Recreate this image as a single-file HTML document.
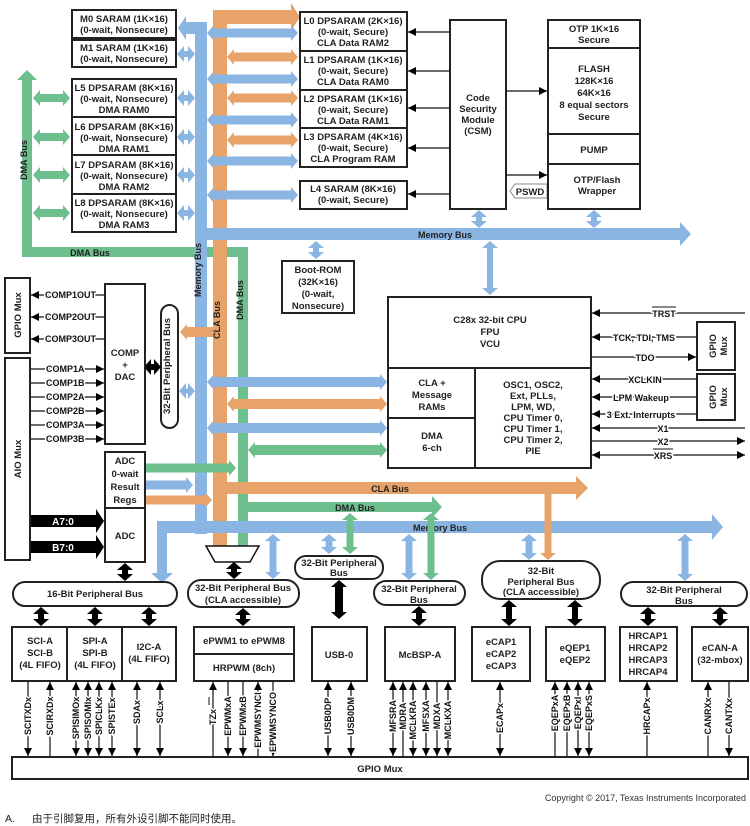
<!DOCTYPE html>
<html><head><meta charset="utf-8"><style>
body{margin:0;background:#fff;}
svg{display:block;font-family:"Liberation Sans",Arial,sans-serif;font-weight:bold;}
.t{font-size:9.5px;text-anchor:middle;fill:#222;}
.s{font-size:9px;fill:#222;}
.p{font-size:9px;text-anchor:middle;fill:#111;stroke:#fff;stroke-width:3px;paint-order:stroke;}
.bx{fill:#fff;stroke:#222;stroke-width:2;}
.ln{stroke:#111;stroke-width:1.2;fill:none;}
</style></head><body>
<svg width="750" height="826" viewBox="0 0 750 826">
<defs>
<marker id="mb" viewBox="0 0 7 16" refX="0" refY="8" markerWidth="7" markerHeight="16" markerUnits="userSpaceOnUse" orient="auto-start-reverse"><path d="M0,0L7,8L0,16z" fill="#8ab4e2"/></marker>
<marker id="mo" viewBox="0 0 7 16" refX="0" refY="8" markerWidth="7" markerHeight="16" markerUnits="userSpaceOnUse" orient="auto-start-reverse"><path d="M0,0L7,8L0,16z" fill="#e8a36a"/></marker>
<marker id="mg" viewBox="0 0 7 16" refX="0" refY="8" markerWidth="7" markerHeight="16" markerUnits="userSpaceOnUse" orient="auto-start-reverse"><path d="M0,0L7,8L0,16z" fill="#6dbf8e"/></marker>
<marker id="mk" viewBox="0 0 7 16" refX="0" refY="8" markerWidth="7" markerHeight="16" markerUnits="userSpaceOnUse" orient="auto-start-reverse"><path d="M0,0L7,8L0,16z" fill="#000"/></marker>
<marker id="a" viewBox="0 0 8 8" refX="8" refY="4" markerWidth="8" markerHeight="8" markerUnits="userSpaceOnUse" orient="auto-start-reverse"><path d="M0,0L8,4L0,8z" fill="#000"/></marker>
</defs>

<!-- ===== Main buses ===== -->
<!-- green left DMA -->
<rect x="22" y="80" width="10" height="173" fill="#6dbf8e"/>
<polygon points="17,80 27,70 37,80" fill="#6dbf8e"/>
<rect x="22" y="247" width="226" height="10" fill="#6dbf8e"/>
<rect x="238" y="247" width="10" height="300" fill="#6dbf8e"/>
<polygon points="232,547 243,558 254,547" fill="#6dbf8e"/>
<text x="27" y="160" class="s" transform="rotate(-90 27 160)" text-anchor="middle" font-size="10">DMA Bus</text>
<text x="90" y="256" class="s" text-anchor="middle" font-size="10">DMA Bus</text>
<text x="243" y="300" class="s" transform="rotate(-90 243 300)" text-anchor="middle" font-size="10">DMA Bus</text>

<!-- orange CLA vertical -->
<rect x="213" y="10" width="14" height="537" fill="#e8a36a"/>
<rect x="213" y="10" width="78" height="14" fill="#e8a36a"/>
<polygon points="291,3 300,17 291,31" fill="#e8a36a"/>
<polygon points="208,547 220,558 232,547" fill="#e8a36a"/>
<text x="220" y="320" class="s" transform="rotate(-90 220 320)" text-anchor="middle" font-size="10">CLA Bus</text>

<!-- blue memory vertical -->
<rect x="195" y="22" width="12" height="512" fill="#8ab4e2"/>
<rect x="186" y="22" width="10" height="12" fill="#8ab4e2"/>
<polygon points="186,16 178,28 186,40" fill="#8ab4e2"/>
<text x="201" y="270" class="s" transform="rotate(-90 201 270)" text-anchor="middle" font-size="10">Memory Bus</text>
<!-- top memory bus horizontal -->
<rect x="195" y="228" width="485" height="12" fill="#8ab4e2"/>
<polygon points="680,222 691,234 680,246" fill="#8ab4e2"/>
<text x="445" y="238" class="s" text-anchor="middle" font-size="10">Memory Bus</text>

<!-- bottom memory bus -->
<rect x="157" y="521" width="555" height="12" fill="#8ab4e2"/>
<polygon points="712,514 723,527 712,540" fill="#8ab4e2"/>
<rect x="157" y="521" width="10" height="52" fill="#8ab4e2"/>
<polygon points="151,573 162,583 173,573" fill="#8ab4e2"/>
<text x="440" y="531" class="s" text-anchor="middle" font-size="10">Memory Bus</text>
<!-- CLA bus horizontal -->
<rect x="220" y="482" width="356" height="12" fill="#e8a36a"/>
<polygon points="576,476 588,488 576,500" fill="#e8a36a"/>
<text x="390" y="492" class="s" text-anchor="middle" font-size="10">CLA Bus</text>
<!-- DMA bus horizontal -->
<rect x="242" y="502" width="190" height="10" fill="#6dbf8e"/>
<polygon points="432,496 442,507 432,518" fill="#6dbf8e"/>
<text x="355" y="511" class="s" text-anchor="middle" font-size="10">DMA Bus</text>

<!-- ===== Left memory blocks ===== -->
<rect x="72" y="10" width="104" height="28" class="bx"/>
<text x="124" y="22" class="t">M0 SARAM (1K×16)</text><text x="124" y="33" class="t">(0-wait, Nonsecure)</text>
<rect x="72" y="40" width="104" height="27" class="bx"/>
<text x="124" y="51" class="t">M1 SARAM (1K×16)</text><text x="124" y="62" class="t">(0-wait, Nonsecure)</text>
<rect x="72" y="79" width="104" height="38" class="bx"/>
<text x="124" y="91" class="t">L5 DPSARAM (8K×16)</text><text x="124" y="102" class="t">(0-wait, Nonsecure)</text><text x="124" y="113" class="t">DMA RAM0</text>
<rect x="72" y="117" width="104" height="38" class="bx"/>
<text x="124" y="130" class="t">L6 DPSARAM (8K×16)</text><text x="124" y="141" class="t">(0-wait, Nonsecure)</text><text x="124" y="152" class="t">DMA RAM1</text>
<rect x="72" y="155" width="104" height="39" class="bx"/>
<text x="124" y="168" class="t">L7 DPSARAM (8K×16)</text><text x="124" y="179" class="t">(0-wait, Nonsecure)</text><text x="124" y="190" class="t">DMA RAM2</text>
<rect x="72" y="194" width="104" height="38" class="bx"/>
<text x="124" y="206" class="t">L8 DPSARAM (8K×16)</text><text x="124" y="217" class="t">(0-wait, Nonsecure)</text><text x="124" y="228" class="t">DMA RAM3</text>

<g stroke="#8ab4e2" stroke-width="6" marker-start="url(#mb)" marker-end="url(#mb)">
<line x1="184" y1="54" x2="188" y2="54"/><line x1="184" y1="98" x2="188" y2="98"/><line x1="184" y1="137" x2="188" y2="137"/><line x1="184" y1="175" x2="188" y2="175"/><line x1="184" y1="213" x2="188" y2="213"/>
</g>
<g stroke="#6dbf8e" stroke-width="8" marker-start="url(#mg)" marker-end="url(#mg)">
<line x1="40" y1="98" x2="63" y2="98"/><line x1="40" y1="137" x2="63" y2="137"/><line x1="40" y1="175" x2="63" y2="175"/><line x1="40" y1="213" x2="63" y2="213"/>
</g>

<!-- ===== Right L0-L4 ===== -->
<g stroke="#8ab4e2" stroke-width="9" marker-start="url(#mb)" marker-end="url(#mb)">
<line x1="214" y1="33" x2="291" y2="33"/><line x1="214" y1="79" x2="291" y2="79"/><line x1="214" y1="120" x2="291" y2="120"/><line x1="214" y1="161" x2="291" y2="161"/><line x1="214" y1="195" x2="291" y2="195"/>
</g>
<g stroke="#e8a36a" stroke-width="9" marker-start="url(#mo)" marker-end="url(#mo)">
<line x1="234" y1="57" x2="291" y2="57"/><line x1="234" y1="98" x2="291" y2="98"/><line x1="234" y1="140" x2="291" y2="140"/>
</g>
<rect x="300" y="12" width="107" height="39" class="bx"/>
<text x="353" y="24" class="t">L0 DPSARAM (2K×16)</text><text x="353" y="35" class="t">(0-wait, Secure)</text><text x="353" y="46" class="t">CLA Data RAM2</text>
<rect x="300" y="51" width="107" height="39" class="bx"/>
<text x="353" y="63" class="t">L1 DPSARAM (1K×16)</text><text x="353" y="74" class="t">(0-wait, Secure)</text><text x="353" y="85" class="t">CLA Data RAM0</text>
<rect x="300" y="90" width="107" height="38" class="bx"/>
<text x="353" y="102" class="t">L2 DPSARAM (1K×16)</text><text x="353" y="113" class="t">(0-wait, Secure)</text><text x="353" y="124" class="t">CLA Data RAM1</text>
<rect x="300" y="128" width="107" height="39" class="bx"/>
<text x="353" y="140" class="t">L3 DPSARAM (4K×16)</text><text x="353" y="151" class="t">(0-wait, Secure)</text><text x="353" y="162" class="t">CLA Program RAM</text>
<rect x="300" y="181" width="107" height="28" class="bx"/>
<text x="353" y="192" class="t">L4 SARAM (8K×16)</text><text x="353" y="203" class="t">(0-wait, Secure)</text>

<!-- CSM -->
<rect x="450" y="20" width="56" height="189" class="bx"/>
<text x="478" y="101" class="t">Code</text><text x="478" y="112" class="t">Security</text><text x="478" y="123" class="t">Module</text><text x="478" y="134" class="t">(CSM)</text>
<g class="ln" marker-end="url(#a)">
<line x1="450" y1="32" x2="408" y2="32"/><line x1="450" y1="71" x2="408" y2="71"/><line x1="450" y1="108" x2="408" y2="108"/><line x1="450" y1="148" x2="408" y2="148"/><line x1="450" y1="194" x2="408" y2="194"/>
<line x1="506" y1="91" x2="547" y2="91"/><line x1="506" y1="175" x2="547" y2="175"/>
</g>
<polygon points="547,184 515,184 510,191 515,198 547,198" fill="#fff" stroke="#888" stroke-width="1"/>
<text x="530" y="195" class="t" font-size="9">PSWD</text>
<!-- Flash -->
<rect x="548" y="20" width="92" height="28" class="bx"/>
<text x="594" y="32" class="t">OTP 1K×16</text><text x="594" y="43" class="t">Secure</text>
<rect x="548" y="48" width="92" height="86" class="bx"/>
<text x="594" y="72" class="t">FLASH</text><text x="594" y="84" class="t">128K×16</text><text x="594" y="96" class="t">64K×16</text><text x="594" y="108" class="t">8 equal sectors</text><text x="594" y="120" class="t">Secure</text>
<rect x="548" y="134" width="92" height="30" class="bx"/>
<text x="594" y="153" class="t">PUMP</text>
<rect x="548" y="164" width="92" height="45" class="bx"/>
<text x="597" y="183" class="t">OTP/Flash</text><text x="597" y="194" class="t">Wrapper</text>
<g stroke="#8ab4e2" stroke-width="6" marker-start="url(#mb)" marker-end="url(#mb)">
<line x1="479" y1="217" x2="479" y2="221"/><line x1="594" y1="217" x2="594" y2="221"/>
<line x1="316" y1="248" x2="316" y2="252"/>
<line x1="490" y1="248" x2="490" y2="288"/>
</g>
<!-- Boot ROM -->
<rect x="282" y="261" width="72" height="52" class="bx"/>
<text x="318" y="273" class="t">Boot-ROM</text><text x="318" y="285" class="t">(32K×16)</text><text x="318" y="297" class="t">(0-wait,</text><text x="318" y="309" class="t">Nonsecure)</text>

<!-- CPU -->
<rect x="388" y="297" width="203" height="71" class="bx"/>
<text x="490" y="323" class="t" font-size="10">C28x 32-bit CPU</text><text x="490" y="335" class="t" font-size="10">FPU</text><text x="490" y="347" class="t" font-size="10">VCU</text>
<rect x="388" y="368" width="87" height="50" class="bx"/>
<text x="432" y="386" class="t" font-size="10">CLA +</text><text x="432" y="398" class="t" font-size="10">Message</text><text x="432" y="410" class="t" font-size="10">RAMs</text>
<rect x="388" y="418" width="87" height="50" class="bx"/>
<text x="432" y="439" class="t" font-size="10">DMA</text><text x="432" y="451" class="t" font-size="10">6-ch</text>
<rect x="475" y="368" width="116" height="100" class="bx"/>
<g class="t" font-size="9"><text x="533" y="388">OSC1, OSC2,</text><text x="533" y="399">Ext, PLLs,</text><text x="533" y="410">LPM, WD,</text><text x="533" y="421">CPU Timer 0,</text><text x="533" y="432">CPU Timer 1,</text><text x="533" y="443">CPU Timer 2,</text><text x="533" y="454">PIE</text></g>
<!-- right GPIO mux -->
<rect x="697" y="322" width="38" height="48" class="bx"/>
<text x="716" y="346" class="t" transform="rotate(-90 716 346)" font-size="10">GPIO</text><text x="727" y="346" class="t" transform="rotate(-90 727 346)" font-size="10">Mux</text>
<rect x="697" y="374" width="38" height="46" class="bx"/>
<text x="716" y="397" class="t" transform="rotate(-90 716 397)" font-size="10">GPIO</text><text x="727" y="397" class="t" transform="rotate(-90 727 397)" font-size="10">Mux</text>
<g class="ln">
<line x1="745" y1="313" x2="592" y2="313" marker-end="url(#a)"/>
<line x1="697" y1="337" x2="592" y2="337" marker-end="url(#a)"/>
<line x1="591" y1="357" x2="696" y2="357" marker-end="url(#a)"/>
<line x1="697" y1="379" x2="592" y2="379" marker-end="url(#a)"/>
<line x1="697" y1="397" x2="592" y2="397" marker-end="url(#a)"/>
<line x1="697" y1="414" x2="592" y2="414" marker-end="url(#a)"/>
<line x1="745" y1="428" x2="592" y2="428" marker-end="url(#a)"/>
<line x1="591" y1="441" x2="745" y2="441" marker-end="url(#a)"/>
<line x1="592" y1="455" x2="745" y2="455" marker-end="url(#a)" marker-start="url(#a)"/>
</g>
<g class="p" font-size="9.5">
<text x="664" y="317">TRST</text><line x1="652" y1="307" x2="676" y2="307" stroke="#111" stroke-width="1"/>
<text x="644" y="341">TCK, TDI, TMS</text>
<text x="645" y="361">TDO</text>
<text x="645" y="383">XCLKIN</text>
<text x="641" y="401">LPM Wakeup</text>
<text x="641" y="418">3 Ext. Interrupts</text>
<text x="663" y="432">X1</text>
<text x="663" y="445">X2</text>
<text x="663" y="459">XRS</text><line x1="653" y1="449" x2="673" y2="449" stroke="#111" stroke-width="1"/>
</g>

<!-- arrows from buses to CLA/DMA -->
<g stroke="#8ab4e2" stroke-width="10" marker-start="url(#mb)" marker-end="url(#mb)">
<line x1="214" y1="382" x2="380" y2="382"/><line x1="214" y1="428" x2="380" y2="428"/>
</g>
<line x1="234" y1="404" x2="380" y2="404" stroke="#e8a36a" stroke-width="10" marker-start="url(#mo)" marker-end="url(#mo)"/>
<line x1="255" y1="450" x2="380" y2="450" stroke="#6dbf8e" stroke-width="10" marker-start="url(#mg)" marker-end="url(#mg)"/>
<!-- left peripheral bus pill -->
<line x1="213" y1="332" x2="187" y2="332" stroke="#e8a36a" stroke-width="10" marker-end="url(#mo)"/>
<line x1="186" y1="391" x2="188" y2="391" stroke="#8ab4e2" stroke-width="5" marker-start="url(#mb)" marker-end="url(#mb)"/>
<rect x="161" y="305" width="17" height="123" rx="8.5" class="bx" stroke-width="1.5"/>
<text x="170" y="366" class="t" transform="rotate(-90 170 366)" font-size="9.5">32-Bit Peripheral Bus</text>
<line x1="151" y1="367" x2="154" y2="367" stroke="#000" stroke-width="6" marker-start="url(#mk)" marker-end="url(#mk)"/>

<!-- Left GPIO/AIO -->
<rect x="5" y="278" width="25" height="75" class="bx"/>
<text x="21" y="315" class="t" transform="rotate(-90 21 315)" font-size="10">GPIO Mux</text>
<rect x="5" y="358" width="25" height="202" class="bx"/>
<text x="21" y="459" class="t" transform="rotate(-90 21 459)" font-size="10">AIO Mux</text>
<rect x="105" y="284" width="40" height="160" class="bx"/>
<text x="125" y="356" class="t">COMP</text><text x="125" y="368" class="t">+</text><text x="125" y="380" class="t">DAC</text>
<g class="ln">
<line x1="105" y1="295" x2="31" y2="295" marker-end="url(#a)"/><line x1="105" y1="317" x2="31" y2="317" marker-end="url(#a)"/><line x1="105" y1="339" x2="31" y2="339" marker-end="url(#a)"/>
<line x1="31" y1="369" x2="104" y2="369" marker-end="url(#a)"/><line x1="31" y1="383" x2="104" y2="383" marker-end="url(#a)"/><line x1="31" y1="397" x2="104" y2="397" marker-end="url(#a)"/><line x1="31" y1="411" x2="104" y2="411" marker-end="url(#a)"/><line x1="31" y1="425" x2="104" y2="425" marker-end="url(#a)"/><line x1="31" y1="439" x2="104" y2="439" marker-end="url(#a)"/>
</g>
<g class="p" font-size="9" text-anchor="start">
<text x="45" y="298" text-anchor="start">COMP1OUT</text><text x="45" y="320" text-anchor="start">COMP2OUT</text><text x="45" y="342" text-anchor="start">COMP3OUT</text>
<text x="46" y="372" text-anchor="start">COMP1A</text><text x="46" y="386" text-anchor="start">COMP1B</text><text x="46" y="400" text-anchor="start">COMP2A</text><text x="46" y="414" text-anchor="start">COMP2B</text><text x="46" y="428" text-anchor="start">COMP3A</text><text x="46" y="442" text-anchor="start">COMP3B</text>
</g>
<rect x="105" y="452" width="40" height="56" class="bx"/>
<text x="125" y="464" class="t" font-size="10">ADC</text><text x="125" y="477" class="t" font-size="10">0-wait</text><text x="125" y="490" class="t" font-size="10">Result</text><text x="125" y="503" class="t" font-size="10">Regs</text>
<rect x="105" y="508" width="40" height="54" class="bx"/>
<text x="125" y="539" class="t" font-size="10">ADC</text>
<line x1="146" y1="468" x2="229" y2="468" stroke="#6dbf8e" stroke-width="9" marker-end="url(#mg)"/>
<line x1="146" y1="485" x2="186" y2="485" stroke="#8ab4e2" stroke-width="9" marker-end="url(#mb)"/>
<line x1="146" y1="500" x2="205" y2="500" stroke="#e8a36a" stroke-width="9" marker-end="url(#mo)"/>
<polygon points="31,515 96,515 96,509 104,521 96,533 96,527 31,527" fill="#000"/>
<polygon points="31,541 96,541 96,535 104,547 96,559 96,553 31,553" fill="#000"/>
<text x="63" y="525" font-size="10" fill="#fff" text-anchor="middle">A7:0</text>
<text x="63" y="551" font-size="10" fill="#fff" text-anchor="middle">B7:0</text>

<!-- mux trapezoid -->
<polygon points="206,546 259,546 250,562 215,562" fill="#fff" stroke="#111" stroke-width="1.5"/>

<!-- vertical bus drops -->
<g stroke-width="7">
<line x1="273" y1="541" x2="273" y2="572" stroke="#8ab4e2" marker-start="url(#mb)" marker-end="url(#mb)"/>
<line x1="329" y1="541" x2="329" y2="547" stroke="#8ab4e2" marker-start="url(#mb)" marker-end="url(#mb)"/>
<line x1="350" y1="520" x2="350" y2="547" stroke="#6dbf8e" marker-start="url(#mg)" marker-end="url(#mg)"/>
<line x1="409" y1="541" x2="409" y2="573" stroke="#8ab4e2" marker-start="url(#mb)" marker-end="url(#mb)"/>
<line x1="431" y1="520" x2="431" y2="573" stroke="#6dbf8e" marker-start="url(#mg)" marker-end="url(#mg)"/>
<line x1="529" y1="541" x2="529" y2="553" stroke="#8ab4e2" marker-start="url(#mb)" marker-end="url(#mb)"/>
<line x1="548" y1="494" x2="548" y2="553" stroke="#e8a36a" marker-end="url(#mo)"/>
<line x1="685" y1="541" x2="685" y2="574" stroke="#8ab4e2" marker-start="url(#mb)" marker-end="url(#mb)"/>
</g>

<!-- bus pills -->
<rect x="13" y="582" width="164" height="24" rx="12" class="bx" stroke-width="1.5"/>
<text x="95" y="597" class="t">16-Bit Peripheral Bus</text>
<rect x="188" y="580" width="111" height="27" rx="13" class="bx" stroke-width="1.5"/>
<text x="243" y="591" class="t" font-size="9">32-Bit Peripheral Bus</text><text x="243" y="603" class="t" font-size="9">(CLA accessible)</text>
<rect x="295" y="556" width="88" height="23" rx="11" class="bx" stroke-width="1.5"/>
<text x="339" y="566" class="t" font-size="9">32-Bit Peripheral</text><text x="339" y="576" class="t" font-size="9">Bus</text>
<rect x="374" y="581" width="91" height="24" rx="12" class="bx" stroke-width="1.5"/>
<text x="419" y="592" class="t" font-size="9">32-Bit Peripheral</text><text x="419" y="603" class="t" font-size="9">Bus</text>
<rect x="482" y="561" width="118" height="38" rx="18" class="bx" stroke-width="1.5"/>
<text x="541" y="574" class="t" font-size="9.5">32-Bit</text><text x="541" y="585" class="t" font-size="9.5">Peripheral Bus</text><text x="541" y="595" class="t" font-size="8">(CLA accessible)</text>
<rect x="621" y="582" width="126" height="24" rx="12" class="bx" stroke-width="1.5"/>
<text x="684" y="593" class="t" font-size="9">32-Bit Peripheral</text><text x="684" y="604" class="t" font-size="9">Bus</text>

<!-- black connectors -->
<g stroke="#000" stroke-width="6" marker-start="url(#mk)" marker-end="url(#mk)">
<line x1="125" y1="570" x2="125" y2="574"/>
<line x1="41" y1="614" x2="41" y2="619"/><line x1="95" y1="614" x2="95" y2="619"/><line x1="149" y1="614" x2="149" y2="619"/>
<line x1="234" y1="569" x2="234" y2="572"/><line x1="243" y1="615" x2="243" y2="619"/>
<line x1="419" y1="613" x2="419" y2="619"/>
<line x1="509" y1="607" x2="509" y2="619"/><line x1="575" y1="607" x2="575" y2="619"/>
<line x1="648" y1="614" x2="648" y2="619"/><line x1="720" y1="614" x2="720" y2="619"/>
</g>
<line x1="339" y1="587" x2="339" y2="612" stroke="#000" stroke-width="8" marker-start="url(#mk)" marker-end="url(#mk)"/>

<!-- peripheral boxes -->
<rect x="12" y="627" width="55" height="54" class="bx"/>
<text x="40" y="644" class="t">SCI-A</text><text x="40" y="656" class="t">SCI-B</text><text x="40" y="668" class="t">(4L FIFO)</text>
<rect x="67" y="627" width="55" height="54" class="bx"/>
<text x="95" y="644" class="t">SPI-A</text><text x="95" y="656" class="t">SPI-B</text><text x="95" y="668" class="t">(4L FIFO)</text>
<rect x="122" y="627" width="54" height="54" class="bx"/>
<text x="149" y="650" class="t">I2C-A</text><text x="149" y="662" class="t">(4L FIFO)</text>
<rect x="194" y="627" width="100" height="27" class="bx"/>
<text x="244" y="644" class="t">ePWM1 to ePWM8</text>
<rect x="194" y="654" width="100" height="27" class="bx"/>
<text x="244" y="671" class="t">HRPWM (8ch)</text>
<rect x="312" y="627" width="55" height="54" class="bx"/>
<text x="339" y="658" class="t">USB-0</text>
<rect x="385" y="627" width="70" height="54" class="bx"/>
<text x="420" y="658" class="t">McBSP-A</text>
<rect x="472" y="627" width="58" height="54" class="bx"/>
<text x="501" y="645" class="t">eCAP1</text><text x="501" y="657" class="t">eCAP2</text><text x="501" y="669" class="t">eCAP3</text>
<rect x="546" y="627" width="59" height="54" class="bx"/>
<text x="575" y="651" class="t">eQEP1</text><text x="575" y="663" class="t">eQEP2</text>
<rect x="620" y="627" width="57" height="54" class="bx"/>
<text x="648" y="639" class="t">HRCAP1</text><text x="648" y="651" class="t">HRCAP2</text><text x="648" y="663" class="t">HRCAP3</text><text x="648" y="675" class="t">HRCAP4</text>
<rect x="692" y="627" width="56" height="54" class="bx"/>
<text x="720" y="651" class="t">eCAN-A</text><text x="720" y="663" class="t">(32-mbox)</text>

<!-- pin lines -->
<g class="ln">
<line x1="28" y1="682" x2="28" y2="756" marker-end="url(#a)"/>
<line x1="50" y1="756" x2="50" y2="682" marker-end="url(#a)"/>
<line x1="76" y1="682" x2="76" y2="756" marker-end="url(#a)" marker-start="url(#a)"/>
<line x1="88" y1="682" x2="88" y2="756" marker-end="url(#a)" marker-start="url(#a)"/>
<line x1="99" y1="682" x2="99" y2="756" marker-end="url(#a)" marker-start="url(#a)"/>
<line x1="112" y1="682" x2="112" y2="756" marker-end="url(#a)" marker-start="url(#a)"/>
<line x1="137" y1="682" x2="137" y2="756" marker-end="url(#a)" marker-start="url(#a)"/>
<line x1="160" y1="682" x2="160" y2="756" marker-end="url(#a)" marker-start="url(#a)"/>
<line x1="213" y1="756" x2="213" y2="682" marker-end="url(#a)"/>
<line x1="228" y1="682" x2="228" y2="756" marker-end="url(#a)"/>
<line x1="243" y1="682" x2="243" y2="756" marker-end="url(#a)"/>
<line x1="258" y1="756" x2="258" y2="682" marker-end="url(#a)"/>
<line x1="273" y1="682" x2="273" y2="756" marker-end="url(#a)"/>
<line x1="328" y1="682" x2="328" y2="756" marker-end="url(#a)" marker-start="url(#a)"/>
<line x1="351" y1="682" x2="351" y2="756" marker-end="url(#a)" marker-start="url(#a)"/>
<line x1="393" y1="682" x2="393" y2="756" marker-end="url(#a)" marker-start="url(#a)"/>
<line x1="403" y1="756" x2="403" y2="682" marker-end="url(#a)"/>
<line x1="413" y1="682" x2="413" y2="756" marker-end="url(#a)" marker-start="url(#a)"/>
<line x1="426" y1="682" x2="426" y2="756" marker-end="url(#a)" marker-start="url(#a)"/>
<line x1="437" y1="682" x2="437" y2="756" marker-end="url(#a)"/>
<line x1="448" y1="682" x2="448" y2="756" marker-end="url(#a)" marker-start="url(#a)"/>
<line x1="500" y1="682" x2="500" y2="756" marker-end="url(#a)" marker-start="url(#a)"/>
<line x1="555" y1="756" x2="555" y2="682" marker-end="url(#a)"/>
<line x1="567" y1="756" x2="567" y2="682" marker-end="url(#a)"/>
<line x1="578" y1="682" x2="578" y2="756" marker-end="url(#a)" marker-start="url(#a)"/>
<line x1="589" y1="682" x2="589" y2="756" marker-end="url(#a)" marker-start="url(#a)"/>
<line x1="647" y1="756" x2="647" y2="682" marker-end="url(#a)"/>
<line x1="708" y1="756" x2="708" y2="682" marker-end="url(#a)"/>
<line x1="729" y1="682" x2="729" y2="756" marker-end="url(#a)"/>
</g>
<g class="p">
<text transform="translate(31,716) rotate(-90)">SCITXDx</text>
<text transform="translate(53,716) rotate(-90)">SCIRXDx</text>
<text transform="translate(79,718) rotate(-90)">SPISIMOx</text>
<text transform="translate(91,718) rotate(-90)">SPISOMIx</text>
<text transform="translate(102,716) rotate(-90)">SPICLKx</text>
<text transform="translate(115,716) rotate(-90)">SPISTEx</text>
<text transform="translate(140,712) rotate(-90)">SDAx</text>
<text transform="translate(163,712) rotate(-90)">SCLx</text>
<text transform="translate(216,717) rotate(-90)">TZx</text>
<text transform="translate(231,716) rotate(-90)">EPWMxA</text>
<text transform="translate(246,716) rotate(-90)">EPWMxB</text>
<text transform="translate(261,720) rotate(-90)">EPWMSYNCI</text>
<text transform="translate(276,722) rotate(-90)">EPWMSYNCO</text>
<text transform="translate(331,716) rotate(-90)">USB0DP</text>
<text transform="translate(354,716) rotate(-90)">USB0DM</text>
<text transform="translate(396,716) rotate(-90)">MFSRA</text>
<text transform="translate(406,716) rotate(-90)">MDRA</text>
<text transform="translate(416,720) rotate(-90)">MCLKRA</text>
<text transform="translate(429,716) rotate(-90)">MFSXA</text>
<text transform="translate(440,716) rotate(-90)">MDXA</text>
<text transform="translate(451,720) rotate(-90)">MCLKXA</text>
<text transform="translate(503,718) rotate(-90)">ECAPx</text>
<text transform="translate(558,713) rotate(-90)">EQEPxA</text>
<text transform="translate(570,713) rotate(-90)">EQEPxB</text>
<text transform="translate(581,713) rotate(-90)">EQEPxI</text>
<text transform="translate(592,713) rotate(-90)">EQEPxS</text>
<text transform="translate(650,716) rotate(-90)">HRCAPx</text>
<text transform="translate(711,716) rotate(-90)">CANRXx</text>
<text transform="translate(732,716) rotate(-90)">CANTXx</text>
</g>
<line x1="209" y1="697" x2="209" y2="705" stroke="#111" stroke-width="1"/>

<!-- GPIO Mux bottom -->
<rect x="12" y="757" width="736" height="22" class="bx"/>
<text x="380" y="772" class="t" font-size="10">GPIO Mux</text>

<text x="746" y="801" font-size="9" font-weight="normal" fill="#333" text-anchor="end">Copyright © 2017, Texas Instruments Incorporated</text>
<text x="5" y="822" font-size="10.5" font-weight="normal" fill="#222" font-family="'Liberation Sans','Noto Sans CJK SC',sans-serif">A.</text>
<text x="32" y="822" font-size="10.5" font-weight="normal" fill="#222" font-family="'Liberation Sans','Noto Sans CJK SC',sans-serif">由于引脚复用，所有外设引脚不能同时使用。</text>
</svg>
</body></html>
